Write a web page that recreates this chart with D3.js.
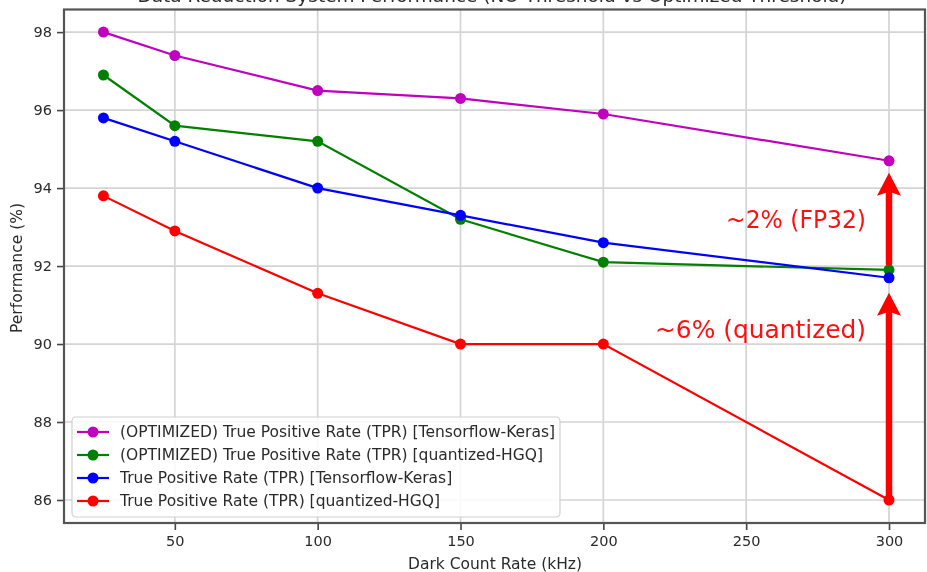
<!DOCTYPE html>
<html>
<head>
<meta charset="utf-8">
<script src="https://cdn.jsdelivr.net/npm/d3@7"></script>
<style>
  html, body { margin: 0; padding: 0; background: #fff; }
  svg { display: block; }
  text { font-family: "DejaVu Sans", sans-serif; }
</style>
</head>
<body>
<svg id="chart" width="927" height="572"></svg>
<script>
// Dark count rates (kHz) on the x axis
const darkCountRates = [25, 50, 100, 150, 200, 300];

// True positive rate (%) per configuration
const optimizedKeras = [98.0, 97.4, 96.5, 96.3, 95.9, 94.7];
const optimizedHGQ   = [96.9, 95.6, 95.2, 93.2, 92.1, 91.9];
const baselineKeras  = [95.8, 95.2, 94.0, 93.3, 92.6, 91.7];
const baselineHGQ    = [93.8, 92.9, 91.3, 90.0, 90.0, 86.0];

const seriesNames = [
  "(OPTIMIZED) True Positive Rate (TPR) [Tensorflow-Keras]",
  "(OPTIMIZED) True Positive Rate (TPR) [quantized-HGQ]",
  "True Positive Rate (TPR) [Tensorflow-Keras]",
  "True Positive Rate (TPR) [quantized-HGQ]"
];
const seriesColors = ["#bf00bf", "#008000", "#0000ff", "#ff0000"];

const xTicks = [50, 100, 150, 200, 250, 300];
const yTicks = [86, 88, 90, 92, 94, 96, 98];

const chartTitle = "Data Reduction System Performance (NO Threshold vs Optimized Threshold)";
const xLabel = "Dark Count Rate (kHz)";
const yLabel = "Performance (%)";
const gainLabels = ["~2% (FP32)", "~6% (quantized)"];

const series = [optimizedKeras, optimizedHGQ, baselineKeras, baselineHGQ].map((vals, i) => ({
  name: seriesNames[i],
  color: seriesColors[i],
  points: darkCountRates.map((x, j) => ({ x, y: vals[j] }))
}));

const svg = d3.select("#chart");
const plot = { left: 64, right: 925, top: 9.5, bottom: 523 };

const x = d3.scaleLinear().domain([11.2, 312.6]).range([plot.left, plot.right]);
const y = d3.scaleLinear().domain([85.41, 98.58]).range([plot.bottom, plot.top]);

// soft rendering for the plotted figure
const defs = svg.append("defs");
defs.append("filter").attr("id", "soft")
  .attr("x", "-5%").attr("y", "-5%").attr("width", "110%").attr("height", "110%")
  .append("feGaussianBlur").attr("stdDeviation", 0.6);

const fig = svg.append("g").attr("filter", "url(#soft)");
fig.append("rect").attr("width", 927).attr("height", 572).attr("fill", "#fff");

// grid
const grid = fig.append("g");
grid.selectAll("line.gx").data(xTicks).join("line")
  .attr("x1", d => x(d)).attr("x2", d => x(d))
  .attr("y1", plot.top).attr("y2", plot.bottom)
  .attr("stroke", "#d4d4d4").attr("stroke-width", 1.7);
grid.selectAll("line.gy").data(yTicks).join("line")
  .attr("y1", d => y(d)).attr("y2", d => y(d))
  .attr("x1", plot.left).attr("x2", plot.right)
  .attr("stroke", "#d4d4d4").attr("stroke-width", 1.7);

// axes
const xAxis = d3.axisBottom(x).tickValues(xTicks).tickSize(7).tickPadding(6).tickFormat(d3.format("d"));
const yAxis = d3.axisLeft(y).tickValues(yTicks).tickSize(7).tickPadding(5).tickFormat(d3.format("d"));

const gx = fig.append("g").attr("transform", `translate(0,${plot.bottom})`).call(xAxis);
const gy = fig.append("g").attr("transform", `translate(${plot.left},0)`).call(yAxis);
[gx, gy].forEach(g => {
  g.select(".domain").remove();
  g.selectAll(".tick line").attr("stroke", "#444").attr("stroke-width", 1.6);
  g.selectAll(".tick text").attr("fill", "#2a2a2a").attr("font-size", 14.5)
    .attr("font-family", "DejaVu Sans, sans-serif");
});

// frame
fig.append("rect")
  .attr("x", plot.left).attr("y", plot.top)
  .attr("width", plot.right - plot.left).attr("height", plot.bottom - plot.top)
  .attr("fill", "none").attr("stroke", "#555").attr("stroke-width", 2.2);

// lines and markers
const line = d3.line().x(d => x(d.x)).y(d => y(d.y));
const sg = fig.append("g").selectAll("g").data(series).join("g");
sg.append("path")
  .attr("d", d => line(d.points))
  .attr("fill", "none").attr("stroke", d => d.color).attr("stroke-width", 2.2);
sg.selectAll("circle").data(d => d.points.map(p => ({ ...p, color: d.color }))).join("circle")
  .attr("cx", d => x(d.x)).attr("cy", d => y(d.y)).attr("r", 5.5)
  .attr("fill", d => d.color);

// legend
const legend = fig.append("g");
legend.append("rect")
  .attr("x", 72).attr("y", 417).attr("width", 488).attr("height", 100)
  .attr("rx", 4).attr("fill", "#fff").attr("fill-opacity", 0.85)
  .attr("stroke", "#d0d0d0").attr("stroke-width", 1.2);
const li = legend.selectAll("g.item").data(series).join("g")
  .attr("transform", (d, i) => `translate(77,${432 + i * 23})`);
li.append("line").attr("x1", 0).attr("x2", 32)
  .attr("stroke", d => d.color).attr("stroke-width", 2.2);
li.append("circle").attr("cx", 16).attr("r", 5.5).attr("fill", d => d.color);
li.append("text").attr("x", 43).attr("dy", "0.35em")
  .attr("font-size", 15.5).attr("fill", "#2a2a2a").text(d => d.name);

// axis titles
fig.append("text").attr("x", 495).attr("y", 569).attr("text-anchor", "middle")
  .attr("font-size", 15.5).attr("fill", "#2a2a2a").text(xLabel);
fig.append("text").attr("transform", "translate(22,268) rotate(-90)")
  .attr("text-anchor", "middle").attr("font-size", 15.5).attr("fill", "#2a2a2a").text(yLabel);

// title, running off the top edge
fig.append("text").attr("x", 492).attr("y", 2).attr("text-anchor", "middle")
  .attr("font-size", 17).attr("fill", "#2a2a2a")
  .attr("textLength", 709).attr("lengthAdjust", "spacingAndGlyphs").text(chartTitle);

// improvement arrows at the highest dark count rate
const last = darkCountRates.length - 1;
const ax = x(darkCountRates[last]);
const arrows = [
  { from: y(optimizedHGQ[last]) - 7, to: y(optimizedKeras[last]) + 12, label: gainLabels[0], ty: 228, tw: 140 },
  { from: y(baselineHGQ[last]), to: y(baselineKeras[last]) + 15, label: gainLabels[1], ty: 338, tw: 211 }
];
const ann = svg.append("g");
arrows.forEach(a => {
  const headLen = 23, headHalf = 12;
  ann.append("line")
    .attr("x1", ax).attr("x2", ax).attr("y1", a.from).attr("y2", a.to + headLen - 2)
    .attr("stroke", "#ff0000").attr("stroke-width", 6.5).attr("stroke-linecap", "round");
  ann.append("path")
    .attr("d", `M${ax},${a.to} L${ax + headHalf},${a.to + headLen} L${ax},${a.to + headLen - 4} L${ax - headHalf},${a.to + headLen} Z`)
    .attr("fill", "#ff0000");
  ann.append("text")
    .attr("x", ax - 23).attr("y", a.ty).attr("text-anchor", "end")
    .attr("font-family", "'Open Sans', sans-serif").attr("font-size", 24)
    .attr("fill", "#ff1010")
    .attr("textLength", a.tw).attr("lengthAdjust", "spacingAndGlyphs")
    .text(a.label);
});
</script>
</body>
</html>
